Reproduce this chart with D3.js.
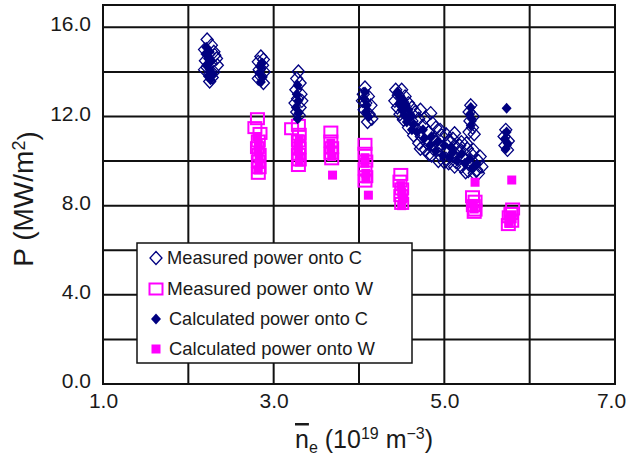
<!DOCTYPE html>
<html>
<head>
<meta charset="utf-8">
<script src="https://cdn.jsdelivr.net/npm/d3@7"></script>
<style>
  html, body { margin: 0; padding: 0; background: #fff; }
  svg { display: block; }
  text { font-family: "Liberation Sans", Arial, Helvetica, sans-serif; fill: #1a1a1a; }
</style>
</head>
<body>
<svg id="chart" width="627" height="457"></svg>
<script>
// ---- data: line-averaged density (1e19 m^-3) vs. heat load P (MW/m^2) ----
const measuredC = [
  [2.22,15.45],[2.27,15.2],[2.19,15.0],[2.30,14.9],[2.24,14.8],[2.33,14.6],[2.20,14.5],[2.27,14.4],
  [2.34,14.3],[2.22,14.2],[2.30,14.0],[2.25,13.9],[2.19,14.1],[2.28,13.75],[2.25,13.57],[2.31,14.75],
  [2.85,14.69],[2.88,14.55],[2.82,14.45],[2.87,14.3],[2.83,14.1],[2.89,14.0],[2.85,13.8],[2.82,13.7],[2.88,13.5],
  [3.29,14.02],[3.27,13.7],[3.31,13.5],[3.26,13.2],[3.32,13.0],[3.28,12.8],[3.25,12.6],[3.31,12.4],
  [3.27,12.2],[3.30,12.05],[3.33,12.7],
  [4.07,13.3],[4.05,13.0],[4.11,12.9],[4.08,12.6],[4.14,12.5],[4.06,12.3],[4.12,12.1],[4.15,11.9],
  [4.10,11.75],[4.04,12.7],
  [4.43,13.2],[4.50,13.2],[4.46,12.95],[4.54,12.9],[4.42,12.7],[4.51,12.65],[4.58,12.6],[4.45,12.4],
  [4.54,12.35],[4.62,12.4],[4.48,12.1],[4.58,12.1],[4.66,12.2],[4.52,11.85],[4.62,11.8],[4.70,11.9],
  [4.84,12.15],[4.58,11.5],[4.67,11.45],[4.75,11.6],[4.64,11.15],[4.73,11.1],[4.82,11.3],[4.90,11.5],
  [4.70,10.8],[4.80,10.8],[4.88,11.0],[4.97,11.15],[4.78,10.5],[4.87,10.55],[4.95,10.7],[5.05,10.9],
  [5.12,11.25],[4.85,10.25],[4.94,10.3],[5.03,10.5],[5.12,10.7],[5.20,10.85],[4.93,10.0],[5.02,10.1],
  [5.10,10.3],[5.18,10.45],[5.27,10.55],[5.05,9.9],[5.14,9.95],[5.22,10.15],[5.32,10.3],[5.40,10.0],
  [5.20,9.75],[5.30,9.8],[5.38,9.6],[5.28,9.55],[5.44,9.75],[5.35,9.45],
  [4.72,12.3],[4.78,11.95],[4.86,11.7],[4.95,11.4],[5.02,11.2],[5.10,11.0],[5.18,10.7],[5.26,10.8],
  [5.34,10.5],[5.42,10.2],[4.72,10.55],[4.82,10.3],[5.00,9.95],[5.12,9.75],[5.25,9.5],[5.40,9.45],
  [5.31,12.5],[5.29,12.2],[5.34,12.0],[5.30,11.8],[5.33,11.5],[5.29,11.3],[5.35,11.2],
  [5.72,11.4],[5.70,11.1],[5.75,10.9],[5.71,10.7],[5.74,10.5]
];
const measuredW = [
  [2.81,11.9],[2.78,11.5],[2.84,11.24],[2.82,10.9],[2.81,10.6],[2.83,10.3],[2.82,10.0],[2.83,9.7],[2.82,9.45],
  [3.29,11.6],[3.21,11.45],[3.30,11.2],[3.29,10.9],[3.30,10.6],[3.29,10.3],[3.30,10.05],[3.29,9.8],
  [3.67,11.3],[3.67,10.9],[3.68,10.6],[3.67,10.35],[3.68,10.1],
  [4.07,10.75],[4.07,10.35],[4.08,10.0],[4.07,9.65],[4.08,9.3],[4.07,9.1],
  [4.49,9.4],[4.48,9.1],[4.50,8.75],[4.49,8.45],[4.50,8.1],
  [5.33,8.4],[5.36,8.2],[5.34,8.0],[5.36,7.8],[5.35,7.7],
  [5.80,7.85],[5.78,7.65],[5.76,7.5],[5.79,7.3],[5.75,7.15]
];
const calculatedC = [
  [2.21,15.1],[2.25,14.9],[2.23,14.6],[2.27,14.5],[2.21,14.3],[2.25,14.1],[2.29,13.9],[2.23,13.8],[2.26,13.65],[2.20,14.8],
  [2.85,14.2],[2.83,13.95],[2.87,13.75],[2.85,13.55],[2.86,14.4],
  [3.28,13.4],[3.27,13.0],[3.29,12.7],[3.26,12.4],[3.29,12.15],[3.28,11.9],
  [4.07,13.1],[4.06,12.8],[4.09,12.5],[4.08,12.2],[4.11,12.0],
  [4.45,13.1],[4.48,12.85],[4.52,12.75],[4.47,12.55],[4.55,12.5],[4.50,12.3],[4.58,12.3],[4.53,12.05],
  [4.61,12.0],[4.56,11.75],[4.64,11.65],[4.68,11.3],[4.76,11.0],[4.83,10.7],[4.92,10.85],[4.90,10.45],
  [4.98,10.25],[5.06,10.15],[5.08,10.6],[5.15,10.0],[5.24,9.9],[5.33,9.7],
  [4.75,11.4],[4.85,11.1],[5.00,10.7],[4.62,11.4],[5.10,10.4],[5.20,10.3],[5.30,10.1],[5.38,9.85],
  [5.31,12.4],[5.30,12.1],[5.32,11.9],[5.31,11.6],
  [5.73,12.37],[5.73,11.3],[5.71,11.0],[5.74,10.8],[5.72,10.55]
];
const calculatedW = [
  [2.82,10.75],[2.83,10.15],[2.82,9.6],[2.81,11.1],[2.82,10.45],[2.83,9.85],
  [3.29,10.75],[3.30,10.2],[3.30,11.0],[3.29,10.45],[3.30,9.95],
  [3.67,10.5],[3.68,10.2],[3.67,10.8],[3.69,9.37],
  [4.07,9.9],[4.08,9.45],[4.07,10.15],[4.08,9.2],[4.11,8.47],
  [4.50,8.6],[4.51,8.3],[4.50,8.0],[4.49,8.9],
  [5.36,9.05],[5.34,8.1],[5.35,7.85],
  [5.79,9.15],[5.77,7.4],[5.78,7.55],[5.76,7.2]
];

const xTickValues = [1, 3, 5, 7];
const yTickValues = [0, 4, 8, 12, 16];
const xGridValues = [2, 3, 4, 5, 6];
const yGridValues = [2, 4, 6, 8, 10, 12, 14, 16];
const legendLabels = [
  "Measured power onto C",
  "Measured power onto W",
  "Calculated power onto C",
  "Calculated power onto W"
];

// ---- layout ----
const svg = d3.select("#chart");
const plot = { left: 103, right: 615, top: 5, bottom: 384 };
const x = d3.scaleLinear().domain([1, 7]).range([plot.left, plot.right]);
const y = d3.scaleLinear().domain([0, 17]).range([plot.bottom, plot.top]);

const NAVY = "#000080", MAGENTA = "#ff00ff", INK = "#111";

// grid
const grid = svg.append("g");
grid.selectAll("line.v").data(xGridValues).join("line")
  .attr("x1", d => x(d)).attr("x2", d => x(d))
  .attr("y1", plot.top).attr("y2", plot.bottom)
  .attr("stroke", INK).attr("stroke-width", 2);
grid.selectAll("line.h").data(yGridValues).join("line")
  .attr("x1", plot.left).attr("x2", plot.right)
  .attr("y1", d => y(d)).attr("y2", d => y(d))
  .attr("stroke", INK).attr("stroke-width", 2);
svg.append("rect")
  .attr("x", plot.left).attr("y", plot.top)
  .attr("width", plot.right - plot.left).attr("height", plot.bottom - plot.top)
  .attr("fill", "none").attr("stroke", INK).attr("stroke-width", 2);

// axes (labels only; grid drawn above)
const fmt = d3.format(".1f");
const yAxis = svg.append("g").attr("transform", `translate(${plot.left},0)`)
  .call(d3.axisLeft(y).tickValues(yTickValues).tickFormat(fmt).tickSize(0).tickPadding(12));
yAxis.select(".domain").remove();
yAxis.selectAll("text").attr("dy", "0.17em").style("font-size", "21px")
  .style("font-family", "'Liberation Sans', Arial, sans-serif").attr("fill", "#1a1a1a");

const xAxis = svg.append("g").attr("transform", `translate(0,${plot.bottom})`)
  .call(d3.axisBottom(x).tickValues(xTickValues).tickFormat(fmt).tickSize(0));
xAxis.select(".domain").remove();
xAxis.selectAll("text").attr("y", 24).attr("dy", 0).style("font-size", "21px")
  .style("font-family", "'Liberation Sans', Arial, sans-serif").attr("fill", "#1a1a1a");
// keep the last label inside the canvas edge
xAxis.selectAll(".tick").filter(d => d === 7).select("text").attr("x", -4);

// axis titles
const yTitle = svg.append("text")
  .attr("transform", "translate(33,199) rotate(-90)")
  .attr("text-anchor", "middle").style("font-size", "28px");
yTitle.append("tspan").text("P (MW/m");
yTitle.append("tspan").attr("dy", "-0.42em").style("font-size", "18px").text("2");
yTitle.append("tspan").attr("dy", "0.42em").text(")");

const xTitle = svg.append("text").attr("x", 295).attr("y", 448).style("font-size", "25px");
xTitle.append("tspan").style("text-decoration", "overline").text("n");
xTitle.append("tspan").attr("dy", 5).style("font-size", "16px").text("e");
xTitle.append("tspan").attr("dy", -5).text(" (10");
xTitle.append("tspan").attr("dy", -9).style("font-size", "16px").text("19");
xTitle.append("tspan").attr("dy", 9).text(" m");
xTitle.append("tspan").attr("dy", -9).style("font-size", "16px").text("\u22123");
xTitle.append("tspan").attr("dy", 9).text(")");

// marker shapes
const diamond = (w, h) => `M0,${-h}L${w},0L0,${h}L${-w},0Z`;
const markers = {
  openDiamond: g => g.append("path").attr("d", diamond(6, 6.5))
    .attr("fill", "none").attr("stroke", NAVY).attr("stroke-width", 1.3),
  openSquare: g => g.append("rect").attr("x", -6.5).attr("y", -5.5).attr("width", 13).attr("height", 11)
    .attr("fill", "none").attr("stroke", MAGENTA).attr("stroke-width", 2),
  filledDiamond: g => g.append("path").attr("d", diamond(5, 5.5)).attr("fill", NAVY),
  filledSquare: g => g.append("rect").attr("x", -4.5).attr("y", -4.5).attr("width", 9).attr("height", 9)
    .attr("fill", MAGENTA)
};

const series = [
  { data: measuredC, mark: markers.openDiamond },
  { data: measuredW, mark: markers.openSquare },
  { data: calculatedC, mark: markers.filledDiamond },
  { data: calculatedW, mark: markers.filledSquare }
];

series.forEach(s => {
  svg.append("g").selectAll("g").data(s.data).join("g")
    .attr("transform", d => `translate(${x(d[0])},${y(d[1])})`)
    .each(function () { s.mark(d3.select(this)); });
});

// legend
const legend = svg.append("g");
legend.append("rect").attr("x", 137).attr("y", 243).attr("width", 275).attr("height", 120)
  .attr("fill", "#fff").attr("stroke", INK).attr("stroke-width", 1.5);
const rowY = [258, 289, 319, 349];
const textX = [167, 167, 169, 169];
const textLen = [195, 206, 199, 206];
legendLabels.forEach((label, i) => {
  const row = legend.append("g");
  row.append("g").attr("transform", `translate(156,${rowY[i]})`).call(series[i].mark);
  row.append("text").attr("x", textX[i]).attr("y", rowY[i] + 5.5)
    .style("font-size", "19px")
    .attr("textLength", textLen[i]).attr("lengthAdjust", "spacingAndGlyphs")
    .text(label);
});
</script>
</body>
</html>
